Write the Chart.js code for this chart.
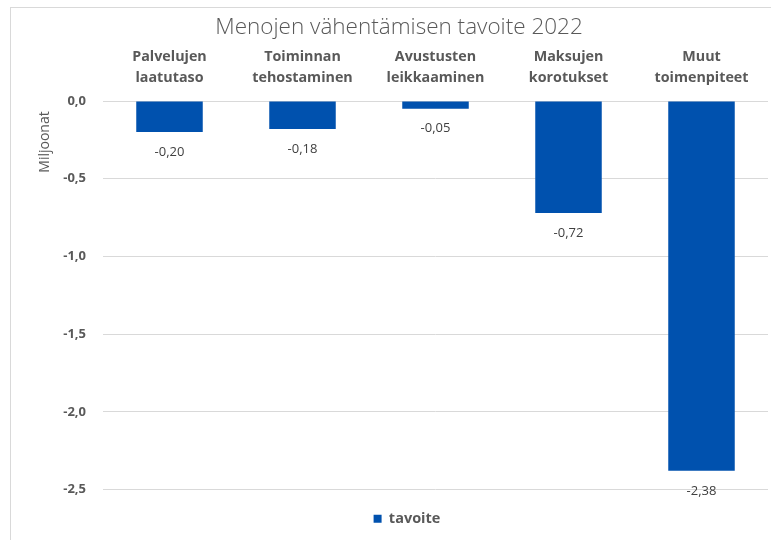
<!DOCTYPE html>
<html>
<head>
<meta charset="utf-8">
<script src="https://cdn.jsdelivr.net/npm/chart.js@4/dist/chart.umd.min.js"></script>
<style>
  html, body { margin: 0; padding: 0; background: #ffffff; }
  #wrap { position: relative; width: 771px; height: 540px; }
</style>
</head>
<body>
<div id="wrap"><canvas id="c" width="771" height="540"></canvas></div>
<script>
const chartTitle = "Menojen vähentämisen tavoite 2022";
const categories = [
  ["Palvelujen", "laatutaso"],
  ["Toiminnan", "tehostaminen"],
  ["Avustusten", "leikkaaminen"],
  ["Maksujen", "korotukset"],
  ["Muut", "toimenpiteet"]
];
const seriesName = "tavoite";
const tavoite = [-0.20, -0.18, -0.05, -0.72, -2.38];
const yAxisTitle = "Miljoonat";
const yTicks = [0, -0.5, -1.0, -1.5, -2.0, -2.5];

const fmt = (v, d) => v.toFixed(d).replace('.', ',');
const GREY = '#595959';
const FONT = "'Open Sans', 'Noto Sans', sans-serif";

const decor = {
  id: 'decor',
  afterLayout(chart) {
    if (chart.legend) {
      chart.legend.left += 23;
      chart.legend.right += 23;
    }
    if (chart.titleBlock) {
      chart.titleBlock.left += 15;
      chart.titleBlock.right += 15;
    }
  },
  beforeDraw(chart) {
    const ctx = chart.ctx;
    ctx.save();
    ctx.strokeStyle = '#d9d9d9';
    ctx.lineWidth = 1;
    ctx.strokeRect(10.5, 7.5, 900, 900);
    ctx.restore();
  },
  afterDraw(chart) {
    const ctx = chart.ctx;
    // axis title
    ctx.save();
    ctx.translate(45, 142);
    ctx.rotate(-Math.PI / 2);
    ctx.fillStyle = GREY;
    ctx.font = "14px " + FONT;
    ctx.textAlign = 'center';
    ctx.textBaseline = 'middle';
    ctx.fillText(yAxisTitle, 0, 0);
    ctx.restore();
    // data labels
    const meta = chart.getDatasetMeta(0);
    ctx.save();
    ctx.fillStyle = '#404040';
    ctx.font = "13px " + FONT;
    ctx.textAlign = 'center';
    ctx.textBaseline = 'middle';
    meta.data.forEach((bar, i) => {
      ctx.fillText(fmt(tavoite[i], 2), bar.x, bar.y + 20);
    });
    ctx.restore();
  }
};

new Chart(document.getElementById('c'), {
  type: 'bar',
  data: {
    labels: categories,
    datasets: [{
      label: seriesName,
      data: tavoite,
      backgroundColor: '#0051AE',
      borderColor: '#0051AE',
      borderWidth: 0,
      categoryPercentage: 1.0,
      barPercentage: 0.5
    }]
  },
  options: {
    responsive: false,
    animation: false,
    devicePixelRatio: 1,
    layout: { padding: { left: 0, top: 0, right: 3, bottom: 4 } },
    plugins: {
      title: {
        display: true,
        text: chartTitle,
        color: GREY,
        font: { family: FONT, size: 22.5, weight: '300', lineHeight: 1.2 },
        padding: { top: 14, bottom: 0 }
      },
      legend: {
        display: true,
        position: 'bottom',
        title: {
          display: true,
          text: '',
          font: { size: 1, lineHeight: 1 },
          padding: { top: 0, bottom: 11 }
        },
        labels: {
          color: GREY,
          font: { family: FONT, size: 14.5, weight: 'bold' },
          boxWidth: 8,
          boxHeight: 8,
          padding: 10
        }
      },
      tooltip: { enabled: false }
    },
    scales: {
      x: {
        position: 'top',
        grid: { display: false, drawTicks: false },
        border: { display: false },
        ticks: {
          color: GREY,
          font: { family: FONT, size: 14.3, weight: 'bold', lineHeight: 1.5 },
          padding: 12,
          maxRotation: 0,
          autoSkip: false
        },
        afterFit(scale) { scale.height = 101 - 41; }
      },
      y: {
        min: -2.5,
        max: 0,
        grid: { color: '#d9d9d9', lineWidth: 1, drawTicks: false },
        border: { display: false },
        afterBuildTicks(scale) { scale.ticks = yTicks.map(v => ({ value: v })); },
        ticks: {
          color: GREY,
          font: { family: FONT, size: 13, weight: 'bold' },
          padding: 17,
          callback: (v) => fmt(v, 1)
        },
        afterFit(scale) { scale.width = 103; }
      }
    }
  },
  plugins: [decor]
});
</script>
</body>
</html>
